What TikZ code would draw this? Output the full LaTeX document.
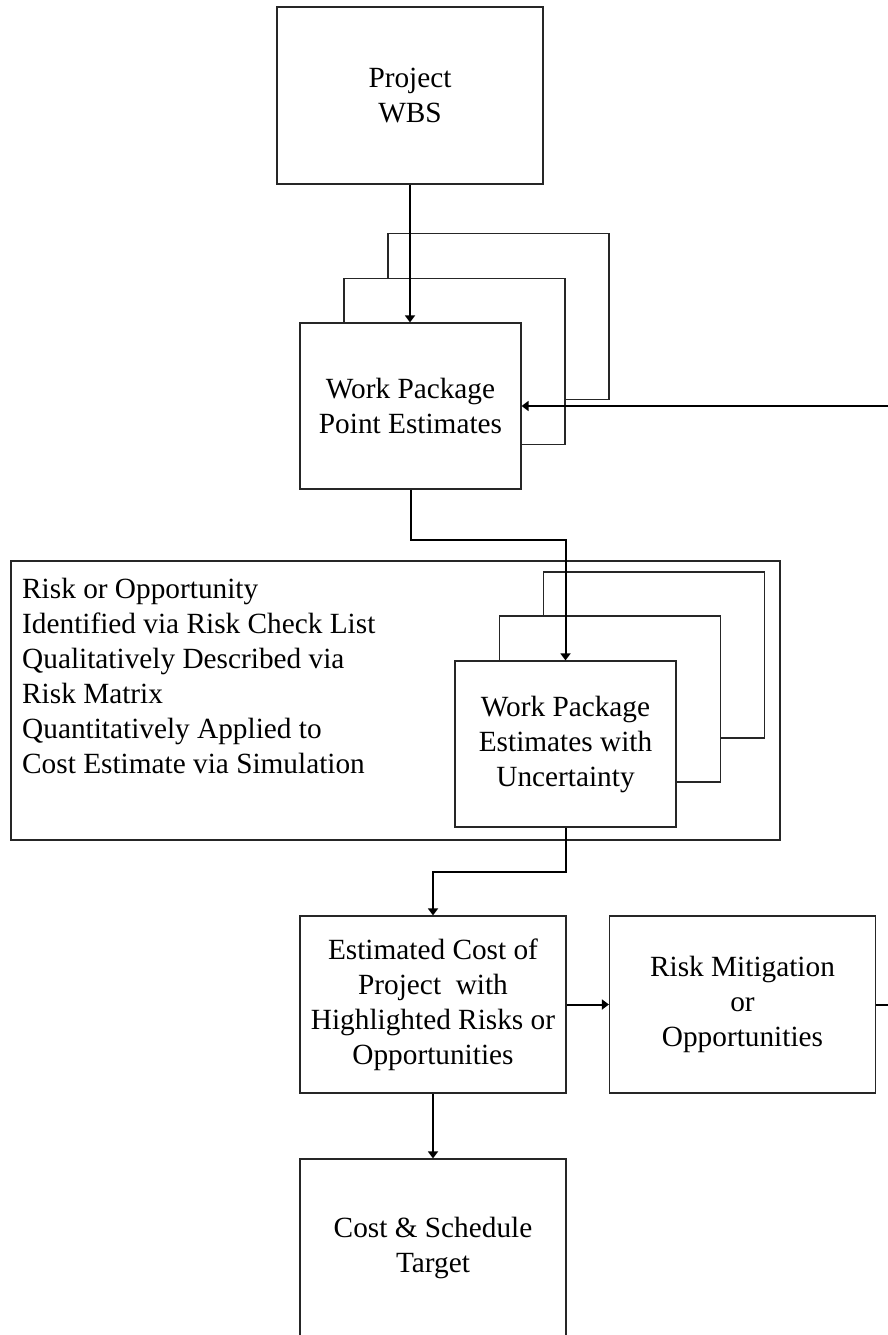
\documentclass[tikz,border=0pt]{standalone}
\usepackage{fontspec}
\setmainfont{Liberation Serif}
\usepackage{tikz}
\usetikzlibrary{arrows.meta, calc}
\tikzstyle{block} = [rectangle, minimum width=266pt, minimum height=177pt, inner sep=0pt, text centered, draw=black!85, line width=1.2pt, fill=white]
\tikzstyle{package} = [rectangle, minimum width=221pt, minimum height=166pt, inner sep=0pt, text centered, draw=black!85, line width=1.2pt, fill=white]
\tikzstyle{frame} = [rectangle, minimum width=769pt, minimum height=279pt, inner sep=0pt, draw=black!85, line width=1.2pt]
\tikzstyle{arrow} = [-{Triangle[length=7pt,width=10pt]}, line width=2pt]
\tikzstyle{link} = [line width=2pt]
\tikzstyle{every node}=[font=\fontsize{29.3pt}{35pt}\selectfont]

\begin{document}
\begin{tikzpicture}[x=1pt, y=-1pt, align=center]
  \useasboundingbox (0,0) rectangle (888,1335);
  \clip (0,0) rectangle (888,1335);
  % boxes
  \node (wbs) [block] at (410,95.5) {Project\\WBS};
  \node (wp3) [package] at (498.5,316.5) {};
  \node (wp2) [package] at (454.5,361.5) {};
  \node (wp) [package] at (410.5,406) {Work Package\\Point Estimates};
  \node (riskbox) [frame] at (395.5,700.5) {};
  \node (risktext) [anchor=north west, inner sep=0pt, align=left] at (22,578) {Risk or Opportunity\\Identified via Risk Check List\\Qualitatively Described via\\Risk Matrix\\Quantitatively Applied to\\Cost Estimate via Simulation};
  \node (wpu3) [package] at (654,655) {};
  \node (wpu2) [package] at (610,699) {};
  \node (wpu) [package] at (565.5,744) {Work Package\\Estimates with\\Uncertainty};
  \node (est) [block] at (433,1004.5) {Estimated Cost of\\Project~ with\\Highlighted Risks or\\Opportunities};
  \node (mit) [block] at (742.5,1004.5) {Risk Mitigation\\or\\Opportunities};
  \node (target) [block, minimum height=178pt] at (433,1248) {Cost \& Schedule\\Target};
  \coordinate (fbin) at (888,406);
  \coordinate (mitout) at (888,1004.5);

  % connectors
  \draw [arrow](wbs.south) -- (wbs.south |- wp.north);
  \draw [arrow](fbin) -- (wp.east);
  \draw [arrow](wp.south) -- ++(0,50) -| (wpu.north);
  \draw [arrow](wpu.south) -- ++(0,44) -| (est.north);
  \draw [arrow](est.east) -- (mit.west);
  \draw [link](mit.east) -- (mitout);
  \draw [arrow](est.south) -- (target.north);
\end{tikzpicture}
\end{document}
